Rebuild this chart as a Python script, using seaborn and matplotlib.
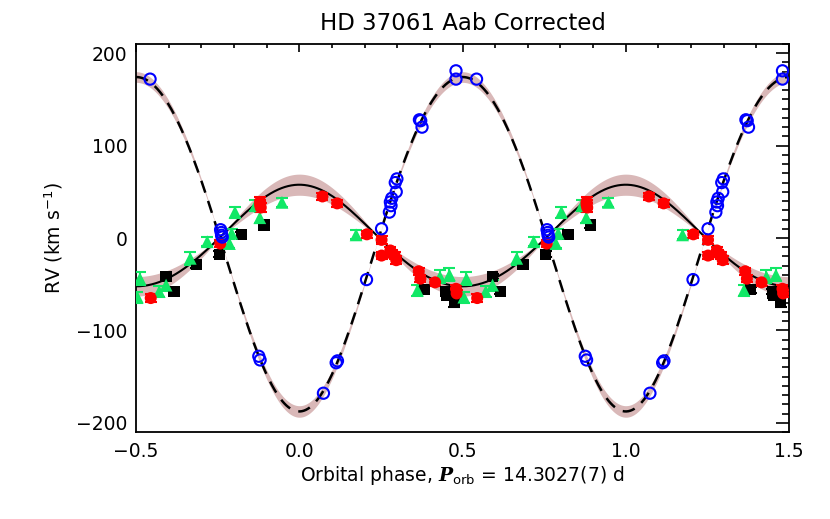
import numpy as np
import pandas as pd
import matplotlib
matplotlib.use('Agg')
import matplotlib.pyplot as plt
import seaborn as sns
from matplotlib.ticker import MultipleLocator

# orbital solution
ecc = 0.04
gamma = 0.5
k1, dk1 = 55.0, 11.0
k2, dk2 = 181.0, 6.0

# secondary (blue open circles)
sec_phase = [-0.457, -0.241, -0.239, -0.238, -0.236, -0.124, -0.120, 0.074, 0.113, 0.117,
             0.206, 0.252, 0.276, 0.279, 0.281, 0.283, 0.294, 0.297, 0.299,
             0.368, 0.372, 0.376, 0.480, 0.480]
sec_rv = [172, 9, 6, 3, 1, -128, -132, -168, -135, -133,
          -45, 10, 28, 39, 35, 43, 60, 50, 64,
          128, 127, 120, 181, 172]

# primary, red circles
red_phase = [-0.455, -0.242, -0.120, -0.120, -0.118, 0.071, 0.116, 0.207, 0.252, 0.252,
             0.279, 0.284, 0.292, 0.297, 0.366, 0.371, 0.416, 0.480, 0.482]
red_rv = [-65, -6, 39, 36, 33, 45, 37.5, 4, -2, -19,
          -13.5, -17, -19, -24, -36, -44, -48, -55, -60]
red_err = [4, 4, 5, 5, 5, 4, 4, 4, 4, 4, 4, 4, 4, 4, 4, 4, 4, 4, 4]

# primary, green triangles
grn_phase = [-0.496, -0.488, -0.429, -0.408, -0.334, -0.282, -0.214, -0.207, -0.197,
             -0.135, -0.121, -0.053, 0.174, 0.362, 0.431, 0.460]
grn_rv = [-64, -44, -58, -51, -22, -4, -6, 5, 28, 35, 22, 38.6, 3.4, -56.6, -42, -40]
grn_err = [6, 7, 6, 6, 7, 5, 5, 5, 6, 6, 6, 5, 5, 6, 7, 7]

# primary, black squares
blk_phase = [-0.408, -0.384, -0.315, -0.245, -0.177, -0.108, 0.383, 0.449, 0.452, 0.475]
blk_rv = [-41.5, -58, -29, -17.5, 3.8, 14, -56, -58, -62, -69]
blk_err = [3, 3, 3, 3, 3, 3, 3, 3, 3, 6]


def kepler_rv(phase, K, omega):
    M = 2 * np.pi * phase
    E = M.copy()
    for _ in range(20):
        E = E - (E - ecc * np.sin(E) - M) / (1 - ecc * np.cos(E))
    nu = 2 * np.arctan2(np.sqrt(1 + ecc) * np.sin(E / 2), np.sqrt(1 - ecc) * np.cos(E / 2))
    return gamma + K * (np.cos(nu + omega) + ecc * np.cos(omega))


def two_cycles(ph, rv, err=None):
    ph = np.asarray(ph, float)
    rv = np.asarray(rv, float)
    err = np.zeros_like(rv) if err is None else np.asarray(err, float)
    df = pd.DataFrame({'phase': np.concatenate([ph, ph + 1]),
                       'rv': np.concatenate([rv, rv]),
                       'err': np.concatenate([err, err])})
    return df[(df.phase >= -0.51) & (df.phase <= 1.51)]


sns.set_theme(style="white")
plt.rcParams['font.family'] = ['DejaVu Sans']
plt.rcParams['mathtext.fontset'] = 'dejavuserif'
plt.rcParams.update({'text.color': 'black', 'axes.labelcolor': 'black',
                     'xtick.color': 'black', 'ytick.color': 'black'})

fig = plt.figure(figsize=(8.3, 5.19), dpi=100)
ax = fig.add_axes([0.1639, 0.1676, 0.7867, 0.7476])

grid = np.linspace(-0.5, 1.5, 1001)
band = '#d9b8b8'
for K, dK, om in [(k1, dk1, 0.0), (k2, dk2, np.pi)]:
    lo = kepler_rv(grid, K - dK, om)
    hi = kepler_rv(grid, K + dK, om)
    ax.fill_between(grid, np.minimum(lo, hi), np.maximum(lo, hi), color=band, lw=0, zorder=1)

curves = pd.DataFrame({'phase': grid,
                       'prim': kepler_rv(grid, k1, 0.0),
                       'sec': kepler_rv(grid, k2, np.pi)})
sns.lineplot(data=curves, x='phase', y='prim', color='black', lw=1.5, ax=ax, zorder=2)
sns.lineplot(data=curves, x='phase', y='sec', color='black', lw=1.8, ax=ax, zorder=2)
ax.lines[-1].set_dashes([5, 3.5])

blk = two_cycles(blk_phase, blk_rv, blk_err)
grn = two_cycles(grn_phase, grn_rv, grn_err)
red = two_cycles(red_phase, red_rv, red_err)
sec = two_cycles(sec_phase, sec_rv)

for df, col in [(blk, 'black'), (grn, '#11e866'), (red, '#ff0000')]:
    ax.errorbar(df.phase, df.rv, yerr=df.err, fmt='none', ecolor=col,
                elinewidth=1.5, capsize=4, capthick=1.5, zorder=3)
sns.scatterplot(data=blk, x='phase', y='rv', marker='s', color='black', s=65,
                edgecolor='none', ax=ax, zorder=4)
sns.scatterplot(data=grn, x='phase', y='rv', marker='^', color='#11e866', s=85,
                edgecolor='none', ax=ax, zorder=4)
sns.scatterplot(data=red, x='phase', y='rv', marker='o', color='#ff0000', s=75,
                edgecolor='none', ax=ax, zorder=5)
sns.scatterplot(data=sec, x='phase', y='rv', marker='o', facecolor='none',
                edgecolor='#0000ff', linewidth=1.5, s=65, ax=ax, zorder=6)

ax.set_xlim(-0.5, 1.5)
ax.set_ylim(-210, 210)
ax.xaxis.set_major_locator(MultipleLocator(0.5))
ax.xaxis.set_minor_locator(MultipleLocator(0.1))
ax.yaxis.set_major_locator(MultipleLocator(100))
ax.yaxis.set_minor_locator(MultipleLocator(10))
ax.set_xticks([-0.5, 0.0, 0.5, 1.0, 1.5])
ax.set_xticklabels([f'{v:.1f}'.replace('-', '\u2212') for v in [-0.5, 0.0, 0.5, 1.0, 1.5]])
ax.tick_params(axis='both', which='both', direction='in', top=True, right=True,
               colors='black', labelsize=13.5, width=1.2)
ax.tick_params(axis='x', which='major', length=6, pad=7)
ax.tick_params(axis='x', which='minor', length=3)
ax.tick_params(axis='y', which='major', length=9.5, pad=6)
ax.tick_params(axis='y', which='minor', length=5)
for sp in ax.spines.values():
    sp.set_linewidth(1.3)
    sp.set_color('black')

ax.set_title('HD 37061 Aab Corrected', fontsize=16.5, pad=10)
ax.set_xlabel(r'Orbital phase, $\mathbfit{P}_{\mathsf{orb}}$ = 14.3027(7) d', fontsize=13.5, labelpad=2)
ax.set_ylabel(r'RV (km s$^{\mathsf{-1}}$)', fontsize=13.5, labelpad=8)

fig.savefig('out.png', dpi=100)
